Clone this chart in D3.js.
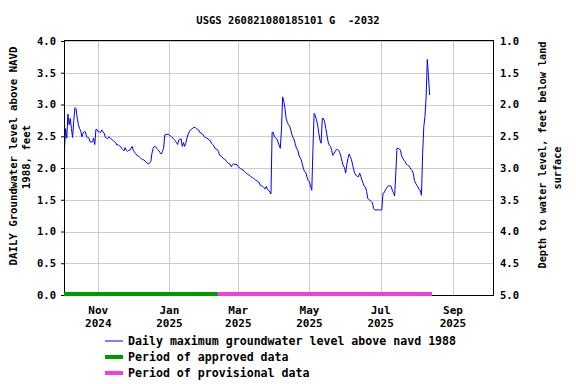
<!DOCTYPE html>
<html>
<head>
<meta charset="utf-8">
<script src="https://cdn.jsdelivr.net/npm/d3@7"></script>
<style>
  body { margin: 0; background: #fff; }
  svg text { font-family: "DejaVu Sans Mono", monospace; font-weight: bold; fill: #000; }
</style>
</head>
<body>
<svg id="chart" width="576" height="384"></svg>
<script>
/* ---------- data ---------- */
const title = 'USGS 260821080185101 G  -2032';
const firstDay = '2024-10-03';
// daily maximum groundwater level above NAVD 1988, feet (one value per day from firstDay)
const levels = [
  2.29, 2.62, 2.47, 2.85, 2.68, 2.78, 2.62, 2.48, 2.75, 2.95, 2.93, 2.78, 2.68, 2.62, 2.58, 2.49,
  2.55, 2.57, 2.57, 2.49, 2.48, 2.47, 2.41, 2.41, 2.41, 2.47, 2.37, 2.61, 2.60, 2.57, 2.57, 2.56,
  2.60, 2.57, 2.55, 2.49, 2.47, 2.46, 2.49, 2.48, 2.46, 2.44, 2.43, 2.41, 2.40, 2.36, 2.37, 2.35,
  2.34, 2.31, 2.29, 2.27, 2.32, 2.28, 2.26, 2.28, 2.28, 2.31, 2.34, 2.28, 2.25, 2.23, 2.20, 2.19,
  2.18, 2.16, 2.14, 2.13, 2.13, 2.11, 2.09, 2.08, 2.06, 2.08, 2.10, 2.23, 2.31, 2.34, 2.34, 2.31,
  2.29, 2.27, 2.24, 2.22, 2.26, 2.31, 2.52, 2.53, 2.53, 2.53, 2.52, 2.50, 2.49, 2.47, 2.45, 2.43,
  2.40, 2.37, 2.44, 2.45, 2.46, 2.34, 2.40, 2.34, 2.39, 2.47, 2.53, 2.57, 2.60, 2.61, 2.63, 2.64,
  2.64, 2.62, 2.61, 2.60, 2.56, 2.55, 2.54, 2.52, 2.49, 2.48, 2.47, 2.46, 2.44, 2.43, 2.39, 2.37,
  2.35, 2.31, 2.30, 2.29, 2.26, 2.20, 2.19, 2.18, 2.15, 2.14, 2.13, 2.10, 2.08, 2.07, 2.06, 2.02,
  2.05, 2.07, 2.05, 2.06, 2.05, 2.02, 2.00, 1.99, 1.98, 1.97, 1.95, 1.93, 1.92, 1.90, 1.89, 1.88,
  1.86, 1.85, 1.84, 1.82, 1.81, 1.80, 1.78, 1.77, 1.72, 1.72, 1.71, 1.69, 1.67, 1.71, 1.66, 1.65,
  1.62, 1.59, 2.56, 2.56, 2.49, 2.47, 2.46, 2.41, 2.36, 2.31, 2.60, 3.12, 3.05, 2.94, 2.78, 2.72,
  2.68, 2.66, 2.60, 2.52, 2.48, 2.44, 2.36, 2.31, 2.28, 2.20, 2.16, 2.13, 2.05, 1.98, 1.94, 1.92,
  1.85, 1.80, 1.78, 1.71, 1.65, 2.31, 2.86, 2.83, 2.76, 2.68, 2.55, 2.44, 2.39, 2.78, 2.78, 2.73,
  2.62, 2.52, 2.41, 2.36, 2.34, 2.28, 2.20, 2.23, 2.26, 2.29, 2.29, 2.28, 2.24, 2.18, 2.10, 2.03,
  2.01, 1.92, 2.05, 2.15, 2.22, 2.18, 2.13, 2.05, 1.97, 1.91, 1.88, 1.87, 1.86, 1.92, 1.87, 1.81,
  1.76, 1.71, 1.70, 1.63, 1.52, 1.50, 1.49, 1.47, 1.45, 1.36, 1.34, 1.34, 1.34, 1.34, 1.34, 1.34,
  1.34, 1.60, 1.61, 1.65, 1.68, 1.71, 1.72, 1.72, 1.71, 1.65, 1.61, 1.56, 1.92, 2.31, 2.31, 2.30,
  2.28, 2.19, 2.15, 2.12, 2.10, 2.06, 2.05, 2.04, 2.01, 1.98, 1.96, 1.91, 1.80, 1.76, 1.73, 1.70,
  1.66, 1.65, 1.57, 2.23, 2.65, 2.81, 3.12, 3.71, 3.44, 3.15
];

const approvedPeriod = ['2024-10-02T15:00', '2025-02-11T12:00'];
const provisionalPeriod = ['2025-02-11T12:00', '2025-08-14T00:00'];

const xDomain = ['2024-10-02T15:00', '2025-10-06T04:00'];
const xTickDates = ['2024-11-01', '2025-01-01', '2025-03-01', '2025-05-01', '2025-07-01', '2025-09-01'];
const leftTicks = [0, 0.5, 1, 1.5, 2, 2.5, 3, 3.5, 4];
const rightTicks = [1, 1.5, 2, 2.5, 3, 3.5, 4, 4.5, 5];

const legendItems = [
  { label: 'Daily maximum groundwater level above navd 1988', color: '#0000ff', width: 1 },
  { label: 'Period of approved data', color: '#009a00', width: 4 },
  { label: 'Period of provisional data', color: '#ee40dd', width: 4 }
];

/* ---------- layout ---------- */
const parse = d3.isoParse;
const start = parse(firstDay);
const series = levels.map((v, i) => ({ date: d3.timeDay.offset(start, i), value: v }));

const plot = { left: 64, right: 494, top: 41, bottom: 295 };
const svg = d3.select('#chart');

const x = d3.scaleTime().domain(xDomain.map(parse)).range([plot.left, plot.right]);
const y = d3.scaleLinear().domain([0, 4]).range([plot.bottom, plot.top]);
const yRight = d3.scaleLinear().domain([5, 1]).range([plot.bottom, plot.top]);

// title
svg.append('text')
  .attr('x', 288)
  .attr('y', 24)
  .attr('text-anchor', 'middle')
  .attr('font-size', '10.5px')
  .style('white-space', 'pre')
  .text(title);

// grid
svg.append('g')
  .selectAll('line')
  .data(leftTicks)
  .join('line')
  .attr('x1', plot.left).attr('x2', plot.right)
  .attr('y1', d => Math.round(y(d)) + 0.5).attr('y2', d => Math.round(y(d)) + 0.5)
  .attr('stroke', '#cccccc');

svg.append('g')
  .selectAll('line')
  .data(xTickDates.map(parse))
  .join('line')
  .attr('x1', d => Math.round(x(d)) + 0.5).attr('x2', d => Math.round(x(d)) + 0.5)
  .attr('y1', plot.top).attr('y2', plot.bottom)
  .attr('stroke', '#cccccc');

// data line
const line = d3.line().x(d => x(d.date)).y(d => y(d.value));
svg.append('path')
  .datum(series)
  .attr('fill', 'none')
  .attr('stroke', '#0000ff')
  .attr('stroke-width', 1)
  .attr('d', line);

// frame
svg.append('rect')
  .attr('x', plot.left + 0.5)
  .attr('y', plot.top - 0.5)
  .attr('width', plot.right - plot.left - 1)
  .attr('height', plot.bottom - plot.top + 1)
  .attr('fill', 'none')
  .attr('stroke', '#000');

// approval periods along the bottom
[[approvedPeriod, legendItems[1].color], [provisionalPeriod, legendItems[2].color]].forEach(([p, c]) => {
  svg.append('line')
    .attr('x1', x(parse(p[0]))).attr('x2', x(parse(p[1])))
    .attr('y1', plot.bottom - 1).attr('y2', plot.bottom - 1)
    .attr('stroke', c)
    .attr('stroke-width', 4);
});

// left axis
const left = svg.append('g')
  .attr('transform', `translate(${plot.left},0)`)
  .call(d3.axisLeft(y).tickValues(leftTicks).tickFormat(d3.format('.1f')).tickSize(3).tickPadding(5));
left.select('.domain').remove();
left.selectAll('text').attr('font-size', '10.5px').attr('font-family', null);

// right axis
const right = svg.append('g')
  .attr('transform', `translate(${plot.right},0)`)
  .call(d3.axisRight(yRight).tickValues(rightTicks).tickFormat(d3.format('.1f')).tickSize(0).tickPadding(6));
right.select('.domain').remove();
right.selectAll('text').attr('font-size', '10.5px').attr('font-family', null);

// bottom labels
const fmtMonth = d3.timeFormat('%b');
const fmtYear = d3.timeFormat('%Y');
const bottom = svg.append('g');
xTickDates.map(parse).forEach(d => {
  bottom.append('text')
    .attr('x', x(d)).attr('y', 314)
    .attr('text-anchor', 'middle').attr('font-size', '11px')
    .text(fmtMonth(d));
  bottom.append('text')
    .attr('x', x(d)).attr('y', 327)
    .attr('text-anchor', 'middle').attr('font-size', '11px')
    .text(fmtYear(d));
});

// axis titles
svg.append('text')
  .attr('transform', 'translate(17,156) rotate(-90)')
  .attr('text-anchor', 'middle').attr('font-size', '10.7px')
  .text('DAILY Groundwater level above NAVD');
svg.append('text')
  .attr('transform', 'translate(30,157) rotate(-90)')
  .attr('text-anchor', 'middle').attr('font-size', '10.7px')
  .text('1988, feet');

svg.append('text')
  .attr('transform', 'translate(546,155) rotate(-90)')
  .attr('text-anchor', 'middle').attr('font-size', '10.2px')
  .text('Depth to water level, feet below land');
svg.append('text')
  .attr('transform', 'translate(561,168) rotate(-90)')
  .attr('text-anchor', 'middle').attr('font-size', '10.2px')
  .text('surface');

// legend
const legend = svg.append('g');
legendItems.forEach((item, i) => {
  const cy = 341 + i * 16;
  legend.append('line')
    .attr('x1', 105).attr('x2', 123)
    .attr('y1', cy).attr('y2', cy)
    .attr('stroke', item.color)
    .attr('stroke-width', item.width);
  legend.append('text')
    .attr('x', 128).attr('y', cy + 4)
    .attr('font-size', '11.6px')
    .text(item.label);
});
</script>
</body>
</html>
